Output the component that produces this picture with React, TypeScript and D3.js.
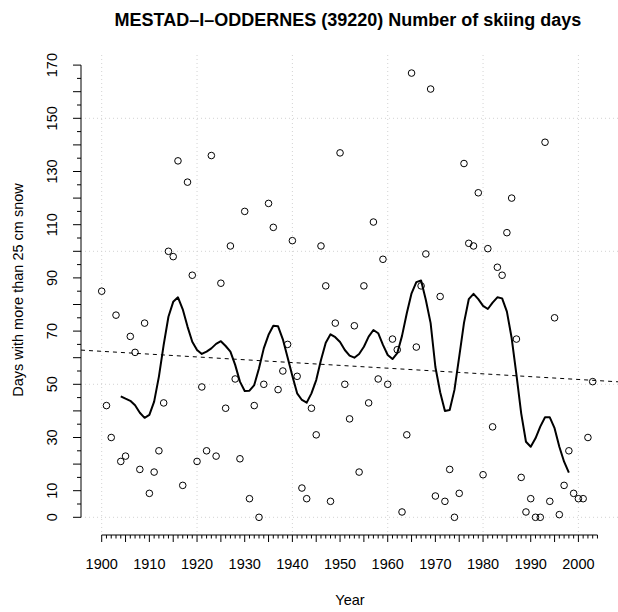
import React from 'react';
import * as d3 from 'd3';

// skiing days per winter, Mestad i Oddernes (39220)
const years = [
  1900, 1901, 1902, 1903, 1904, 1905, 1906, 1907, 1908, 1909,
  1910, 1911, 1912, 1913, 1914, 1915, 1916, 1917, 1918, 1919,
  1920, 1921, 1922, 1923, 1924, 1925, 1926, 1927, 1928, 1929,
  1930, 1931, 1932, 1933, 1934, 1935, 1936, 1937, 1938, 1939,
  1940, 1941, 1942, 1943, 1944, 1945, 1946, 1947, 1948, 1949,
  1950, 1951, 1952, 1953, 1954, 1955, 1956, 1957, 1958, 1959,
  1960, 1961, 1962, 1963, 1964, 1965, 1966, 1967, 1968, 1969,
  1970, 1971, 1972, 1973, 1974, 1975, 1976, 1977, 1978, 1979,
  1980, 1981, 1982, 1983, 1984, 1985, 1986, 1987, 1988, 1989,
  1990, 1991, 1992, 1993, 1994, 1995, 1996, 1997, 1998, 1999,
  2000, 2001, 2002, 2003,
];
const skiDays = [
  85, 42, 30, 76, 21, 23, 68, 62, 18, 73,
  9, 17, 25, 43, 100, 98, 134, 12, 126, 91,
  21, 49, 25, 136, 23, 88, 41, 102, 52, 22,
  115, 7, 42, 0, 50, 118, 109, 48, 55, 65,
  104, 53, 11, 7, 41, 31, 102, 87, 6, 73,
  137, 50, 37, 72, 17, 87, 43, 111, 52, 97,
  50, 67, 63, 2, 31, 167, 64, 87, 99, 161,
  8, 83, 6, 18, 0, 9, 133, 103, 102, 122,
  16, 101, 34, 94, 91, 107, 120, 67, 15, 2,
  7, 0, 0, 141, 6, 75, 1, 12, 25, 9,
  7, 7, 30, 51,
];

// smoothed curve (filtered), 1904-1998
const smoothYears = [
  1904, 1905, 1906, 1907, 1908, 1909, 1910, 1911, 1912, 1913,
  1914, 1915, 1916, 1917, 1918, 1919, 1920, 1921, 1922, 1923,
  1924, 1925, 1926, 1927, 1928, 1929, 1930, 1931, 1932, 1933,
  1934, 1935, 1936, 1937, 1938, 1939, 1940, 1941, 1942, 1943,
  1944, 1945, 1946, 1947, 1948, 1949, 1950, 1951, 1952, 1953,
  1954, 1955, 1956, 1957, 1958, 1959, 1960, 1961, 1962, 1963,
  1964, 1965, 1966, 1967, 1968, 1969, 1970, 1971, 1972, 1973,
  1974, 1975, 1976, 1977, 1978, 1979, 1980, 1981, 1982, 1983,
  1984, 1985, 1986, 1987, 1988, 1989, 1990, 1991, 1992, 1993,
  1994, 1995, 1996, 1997, 1998,
];
const smoothDays = [
  45.5, 44.6, 43.8, 42.1, 39.3, 37.4, 38.5, 43.5, 52.9, 64.8,
  75.4, 81, 82.7, 78.2, 71.7, 66, 62.9, 61.4, 62.3, 63.5,
  65.2, 66.2, 64.4, 62.3, 57.3, 51, 47.5, 47.6, 49.7, 56,
  63.5, 68.6, 72, 71.8, 66.9, 60.1, 53.1, 46.6, 44.1, 43.1,
  46.6, 51.6, 59.1, 65.6, 68.8, 67.7, 65.9, 62.9, 60.8, 60,
  61.4, 64.1, 67.9, 70.4, 69.2, 64.8, 61, 59.5, 61.7, 68.2,
  76.7, 84.2, 88.4, 89, 81.7, 73, 56.5, 47, 40, 40.3,
  47.9, 60.4, 73.1, 82, 84, 82, 79.5, 78.3, 80.7, 82.7,
  82.3, 77.3, 67.4, 53.6, 39.1, 28.4, 26.5, 29.7, 34.1, 37.6,
  37.6, 33.5, 26.5, 20.9, 16.8,
];

// linear trend, read at its two ends
const trendYears = [1900, 2003];
const trendDays = [62.4, 51.5];

const xLabels = [1900, 1910, 1920, 1930, 1940, 1950, 1960, 1970, 1980, 1990, 2000];
const yLabels = [0, 10, 30, 50, 70, 90, 110, 130, 150, 170];
const xGrid = [1900, 1920, 1940, 1960, 1980, 2000];
const yGrid = [0, 50, 100, 150];

const W = 618;
const H = 612;
const font = '"Liberation Sans", Arial, Helvetica, sans-serif';
const axisSize = 14.5;

export default function App() {
  const plot = { left: 81, right: 618, top: 55, bottom: 535 };
  const x = d3.scaleLinear().domain([1900, 2000]).range([101.7, 578.4]);
  const y = d3.scaleLinear().domain([0, 170]).range([517.3, 65.1]);

  const smoothLine = d3
    .line<number>()
    .x((_, i) => x(smoothYears[i]))
    .y((d) => y(d));

  const slope = (trendDays[1] - trendDays[0]) / (trendYears[1] - trendYears[0]);
  const trendAt = (yr: number) => trendDays[0] + slope * (yr - trendYears[0]);
  const yrL = x.invert(plot.left);
  const yrR = x.invert(plot.right);

  const xTicks = d3.range(1900, 2005);
  const yTicks = d3.range(0, 171, 5);

  return (
    <svg width={W} height={H} style={{ position: 'absolute', left: 0, top: 0, background: '#fff' }}>
      <defs>
        <clipPath id="plotclip">
          <rect x={plot.left} y={plot.top} width={plot.right - plot.left} height={plot.bottom - plot.top} />
        </clipPath>
      </defs>
      <rect width={W} height={H} fill="#fff" />

      <text x={348} y={26} textAnchor="middle" fontFamily={font} fontWeight="bold" fontSize={18}>
        MESTAD–I–ODDERNES (39220) Number of skiing days
      </text>

      {/* grid */}
      <g stroke="#d3d3d3" strokeWidth={1} strokeDasharray="1,3">
        {xGrid.map((g) => (
          <line key={'gx' + g} x1={x(g)} x2={x(g)} y1={plot.top} y2={plot.bottom} />
        ))}
        {yGrid.map((g) => (
          <line key={'gy' + g} x1={plot.left} x2={plot.right} y1={y(g)} y2={y(g)} />
        ))}
      </g>

      <g clipPath="url(#plotclip)">
        <line
          x1={plot.left}
          x2={plot.right}
          y1={y(trendAt(yrL))}
          y2={y(trendAt(yrR))}
          stroke="#000"
          strokeWidth={1}
          strokeDasharray="4,4"
        />
        <path d={smoothLine(smoothDays) || ''} fill="none" stroke="#000" strokeWidth={2} strokeLinejoin="round" />
        {skiDays.map((d, i) => (
          <circle key={years[i]} cx={x(years[i])} cy={y(d)} r={3.3} fill="none" stroke="#000" strokeWidth={1} />
        ))}
      </g>

      {/* x axis */}
      <g stroke="#000" strokeWidth={1}>
        <line x1={x(1900)} x2={x(2004)} y1={plot.bottom} y2={plot.bottom} />
        {xTicks.map((t) => (
          <line key={'xt' + t} x1={x(t)} x2={x(t)} y1={plot.bottom} y2={plot.bottom + (t % 5 === 0 ? 7 : 3.5)} />
        ))}
      </g>
      {xLabels.map((t) => (
        <text key={'xl' + t} x={x(t)} y={569} textAnchor="middle" fontFamily={font} fontSize={axisSize}>
          {t}
        </text>
      ))}
      <text x={350} y={605} textAnchor="middle" fontFamily={font} fontSize={axisSize}>
        Year
      </text>

      {/* y axis */}
      <g stroke="#000" strokeWidth={1}>
        <line x1={plot.left} x2={plot.left} y1={y(0)} y2={y(170)} />
        {yTicks.map((t) => (
          <line key={'yt' + t} x1={plot.left} x2={plot.left - (t % 10 === 0 ? 8 : 4)} y1={y(t)} y2={y(t)} />
        ))}
      </g>
      {yLabels.map((t) => (
        <text
          key={'yl' + t}
          transform={`translate(57,${y(t)}) rotate(-90)`}
          textAnchor="middle"
          fontFamily={font}
          fontSize={axisSize}
        >
          {t}
        </text>
      ))}
      <text
        transform={`translate(23,290) rotate(-90)`}
        textAnchor="middle"
        fontFamily={font}
        fontSize={axisSize}
      >
        Days with more than 25 cm snow
      </text>
    </svg>
  );
}
